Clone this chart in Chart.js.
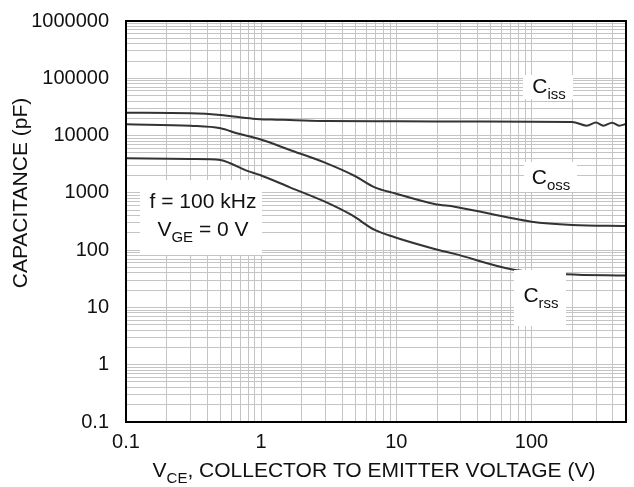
<!DOCTYPE html>
<html>
<head>
<meta charset="utf-8">
<script src="https://cdn.jsdelivr.net/npm/chart.js@4.4.1/dist/chart.umd.min.js"></script>
<style>
  html, body { margin: 0; padding: 0; background: #fff; }
  canvas { display: block; }
</style>
</head>
<body>
<canvas id="capChart" width="634" height="487"></canvas>
<script>
// tick labels (decades)
const xTicks = [0.1, 1, 10, 100];
const yTicks = [0.1, 1, 10, 100, 1000, 10000, 100000, 1000000];
const xMin = 0.1, xMax = 500;

// Ciss
const vCiss = [0.1, 0.3, 0.5, 0.87, 1.2, 1.63, 3, 10, 30, 100, 200, 256, 300, 340, 395, 445, 500];
const cCiss = [25100, 24500, 22900, 19700, 19000, 18700, 18000, 17800, 17600, 17400, 17300, 14900, 16900, 14900, 16800, 14900, 16000];
// Coss
const vCoss = [0.1, 0.3, 0.5, 0.66, 0.98, 1.63, 2.96, 4.93, 6.92, 9.73, 19.2, 27, 100, 200, 500];
const cCoss = [15700, 14800, 13400, 11000, 8610, 5610, 3370, 1970, 1250, 984, 640, 574, 314, 275, 264];
// Crss
const vCrss = [0.1, 0.3, 0.5, 0.59, 0.78, 0.98, 1.63, 2.96, 4.66, 6.92, 9.73, 19.2, 27, 72.4, 180, 500];
const cCrss = [4020, 3900, 3750, 3290, 2440, 2050, 1250, 702, 411, 225, 168, 105, 86, 46, 38, 36];

const FONT = "'Liberation Sans', Arial, Helvetica, sans-serif";

function pts(xs, ys) {
  return xs.map((x, i) => ({x: x, y: ys[i]}));
}

// all 1..9 x decade lines, labels only on decades
function logTicks(decades, max) {
  const out = [];
  decades.forEach(d => {
    for (let k = 1; k <= 9; k++) {
      const v = d * k;
      if (v <= max * 1.0001) out.push({value: v, major: k === 1});
    }
  });
  return out;
}

// draws "base" + subscript + rest, centered on x
function subText(ctx, base, sub, rest, x, y, size, subSize) {
  ctx.font = size + 'px ' + FONT;
  const wb = ctx.measureText(base).width;
  const wr = ctx.measureText(rest).width;
  ctx.font = subSize + 'px ' + FONT;
  const ws = ctx.measureText(sub).width;
  let cx = x - (wb + ws + wr) / 2;
  ctx.textAlign = 'left';
  ctx.textBaseline = 'alphabetic';
  ctx.font = size + 'px ' + FONT;
  ctx.fillText(base, cx, y);
  cx += wb;
  ctx.font = subSize + 'px ' + FONT;
  ctx.fillText(sub, cx, y + size * 0.28);
  cx += ws;
  ctx.font = size + 'px ' + FONT;
  ctx.fillText(rest, cx, y);
}

const boxPlugin = {
  id: 'boxes',
  afterDatasetsDraw(chart) {
    const ctx = chart.ctx;
    const a = chart.chartArea;
    ctx.save();
    ctx.fillStyle = '#fff';
    // test-condition box
    ctx.fillRect(140, 180, 122, 75);
    // series labels
    ctx.fillRect(523, 75, 50, 24);
    ctx.fillRect(524, 162, 53, 30);
    ctx.fillRect(514, 270, 52, 56);
    ctx.fillStyle = '#111';
    ctx.font = '21px ' + FONT;
    ctx.textAlign = 'center';
    ctx.textBaseline = 'alphabetic';
    ctx.fillText('f = 100 kHz', 203, 208);
    subText(ctx, 'V', 'GE', ' = 0 V', 203, 236, 21, 15);
    subText(ctx, 'C', 'iss', '', 549, 93, 21, 15);
    subText(ctx, 'C', 'oss', '', 551, 184, 21, 15);
    subText(ctx, 'C', 'rss', '', 541, 302, 21, 15);

    // frame
    ctx.strokeStyle = '#000';
    ctx.lineWidth = 2;
    ctx.strokeRect(a.left, a.top, a.right - a.left, a.bottom - a.top);

    // axis titles
    ctx.fillStyle = '#111';
    subText(ctx, 'V', 'CE', ', COLLECTOR TO EMITTER VOLTAGE (V)', 374, 477, 21, 15);
    ctx.translate(27, 193);
    ctx.rotate(-Math.PI / 2);
    ctx.font = '21px ' + FONT;
    ctx.textAlign = 'center';
    ctx.fillText('CAPACITANCE (pF)', 0, 0);
    ctx.restore();
  }
};

const lineStyle = {
  borderColor: '#333',
  borderWidth: 2,
  pointRadius: 0,
  fill: false,
  cubicInterpolationMode: 'monotone'
};

const config = {
  type: 'line',
  data: {
    datasets: [
      Object.assign({label: 'Ciss', data: pts(vCiss, cCiss)}, lineStyle),
      Object.assign({label: 'Coss', data: pts(vCoss, cCoss)}, lineStyle),
      Object.assign({label: 'Crss', data: pts(vCrss, cCrss)}, lineStyle)
    ]
  },
  options: {
    responsive: false,
    animation: false,
    layout: {padding: {left: 0, right: 8, top: 21, bottom: 0}},
    plugins: {
      legend: {display: false},
      tooltip: {enabled: false}
    },
    scales: {
      x: {
        type: 'logarithmic',
        position: 'bottom',
        min: xMin,
        max: xMax,
        border: {display: false},
        grid: {color: '#c4c4c4', lineWidth: 1, drawTicks: false},
        afterBuildTicks: (s) => { s.ticks = logTicks(xTicks, xMax); },
        afterFit: (s) => { s.height = 65; s.paddingLeft = 0; s.paddingRight = 0; },
        ticks: {
          autoSkip: false,
          maxRotation: 0,
          padding: 8,
          color: '#111',
          font: {family: FONT, size: 20},
          callback: (v, i, t) => t[i].major ? String(v) : ''
        }
      },
      y: {
        type: 'logarithmic',
        min: yTicks[0],
        max: yTicks[yTicks.length - 1],
        border: {display: false},
        grid: {color: '#c4c4c4', lineWidth: 1, drawTicks: false},
        afterBuildTicks: (s) => { s.ticks = logTicks(yTicks, 1000000); },
        afterFit: (s) => { s.width = 126; s.paddingTop = 0; s.paddingBottom = 0; },
        ticks: {
          autoSkip: false,
          padding: 17,
          color: '#111',
          font: {family: FONT, size: 20},
          callback: (v, i, t) => t[i].major ? String(v) : ''
        }
      }
    }
  },
  plugins: [boxPlugin]
};

new Chart(document.getElementById('capChart'), config);
</script>
</body>
</html>
